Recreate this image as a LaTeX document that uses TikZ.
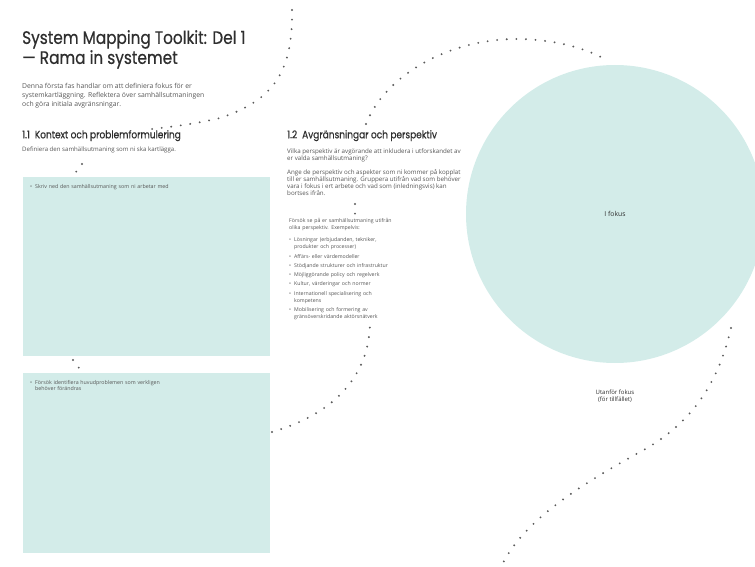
\documentclass[tikz,border=0pt]{standalone}
\usepackage{fontspec}
\setmainfont{Open Sans}
\newfontfamily\headfont[FakeStretch=0.85, FakeBold=0.6]{Poppins}
\usetikzlibrary{positioning}

\definecolor{fokusbg}{HTML}{D3ECE9}
\definecolor{ink}{HTML}{2E2E2E}
\definecolor{grayink}{HTML}{555555}
\definecolor{dotgray}{HTML}{5A5A5A}

\newcommand{\punkt}[1]{\hangindent=5pt\hangafter=1\noindent\makebox[5pt][l]{\textbullet}#1\par}

\begin{document}
\begin{tikzpicture}[x=1pt, y=-1pt,
        dots/.style={draw=dotgray, line width=2.1pt, line cap=round, dash pattern=on 0pt off 9.6pt},
        panel/.style={fill=fokusbg, draw=none, anchor=north west, inner sep=0pt},
        txt/.style={inner sep=0pt, anchor=north west, align=left, text=grayink},
        titel/.style={txt, text=ink, font=\headfont\fontsize{18}{20}\selectfont},
        rubrik/.style={txt, text=ink, font=\headfont\fontsize{10.6}{12}\selectfont}
    ]
        \useasboundingbox (0,0) rectangle (755,567);

        % Fokus circle
        \node[circle, fill=fokusbg, minimum size=298pt, inner sep=0pt] (fokus) at (615,214) {};
        \node[txt, anchor=center, text=ink, font=\fontsize{6.8}{8}\selectfont] (fokustxt) at (fokus.center) {I fokus};
        \node[txt, anchor=center, align=center, text=ink, font=\fontsize{6}{7.2}\selectfont] (utanfor) at (615,396) {Utanför fokus\\(för tillfället)};

        % Title and intro
        \node[titel] (titel) at (22,30) {System Mapping Toolkit: Del 1\\— Rama in systemet};
        \node[txt, font=\fontsize{6.8}{9}\selectfont] (intro) at (22,83)
            {Denna första fas handlar om att definiera fokus för er\\systemkartläggning. Reflektera över samhällsutmaningen\\och göra initiala avgränsningar.};

        % Part 1.1
        \node[rubrik] (rubrik1) at (22,130) {1.1\hspace{5pt}Kontext och problemformulering};
        \node[txt, font=\fontsize{6.1}{7}\selectfont] (text1) at (22,147) {Definiera den samhällsutmaning som ni ska kartlägga.};
        \node[panel, minimum width=247pt, minimum height=179pt] (ruta1) at (23,177) {};
        \node[panel, minimum width=247pt, minimum height=180pt] (ruta2) at (23,373) {};
        \node[txt, font=\fontsize{5.3}{6.6}\selectfont, text width=200pt] (punkt1) at (30,184)
            {\punkt{Skriv ned den samhällsutmaning som ni arbetar med}};
        \node[txt, font=\fontsize{5.3}{6.6}\selectfont, text width=200pt] (punkt2) at (30,380)
            {\punkt{Försök identifiera huvudproblemen som verkligen\newline behöver förändras}};

        % Part 1.2
        \node[rubrik] (rubrik2) at (287,130) {1.2\hspace{5pt}Avgränsningar och perspektiv};
        \node[txt, font=\fontsize{6.2}{7}\selectfont] (text2a) at (287,149)
            {Vilka perspektiv är avgörande att inkludera i utforskandet av\\er valda samhällsutmaning?};
        \node[txt, font=\fontsize{6.2}{7}\selectfont] (text2b) at (287,169)
            {Ange de perspektiv och aspekter som ni kommer på kopplat\\till er samhällsutmaning. Gruppera utifrån vad som behöver\\vara i fokus i ert arbete och vad som (inledningsvis) kan\\bortses ifrån.};
        \node[txt, font=\fontsize{5.2}{7}\selectfont, text width=120pt] (lista) at (289,218)
            {Försök se på er samhällsutmaning utifrån\\olika perspektiv. Exempelvis:\par
             \setlength{\parskip}{2.3pt}\vspace{3pt}
             \punkt{Lösningar (erbjudanden, tekniker,\newline produkter och processer)}
             \punkt{Affärs- eller värdemodeller}
             \punkt{Stödjande strukturer och infrastruktur}
             \punkt{Möjliggörande policy och regelverk}
             \punkt{Kultur, värderingar och normer}
             \punkt{Internationell specialisering och\newline kompetens}
             \punkt{Mobilisering och formering av\newline gränsöverskridande aktörsnätverk}};

        % Dotted paths
        \coordinate (topp) at (292,10);
        \coordinate (a1) at (152,129);
        \coordinate (p1a) at (82,164);
        \coordinate (p1b) at (76,172);
        \coordinate (p2a) at (73,360);
        \coordinate (p2b) at (79,368);
        \coordinate (p3a) at (355,204);
        \coordinate (p3b) at (355,214);
        \coordinate (b1) at (272,432);
        \coordinate (b2) at (370,325);
        \coordinate (c1) at (366,124);
        \coordinate (c2) at (608,61);
        \coordinate (d1) at (731,328);
        \coordinate (d2) at (503,563);

        \draw[dots] (topp) .. controls (293,70) and (275,100) .. (220,118)
            .. controls (195,124) and (170,127) .. (a1);
        \draw[dots] (p1a) -- (p1b);
        \draw[dots] (p2a) -- (p2b);
        \draw[dots] (p3a) -- (p3b);
        \draw[dots] (b1) .. controls (330,415) and (368,380) .. (b2);
        \draw[dots] (c1) .. controls (385,75) and (450,38) .. (520,39)
            .. controls (560,40) and (590,50) .. (c2);
        \draw[dots] (d1) .. controls (718,385) and (690,425) .. (640,452)
            .. controls (580,485) and (525,520) .. (d2);

    \end{tikzpicture}
\end{document}
